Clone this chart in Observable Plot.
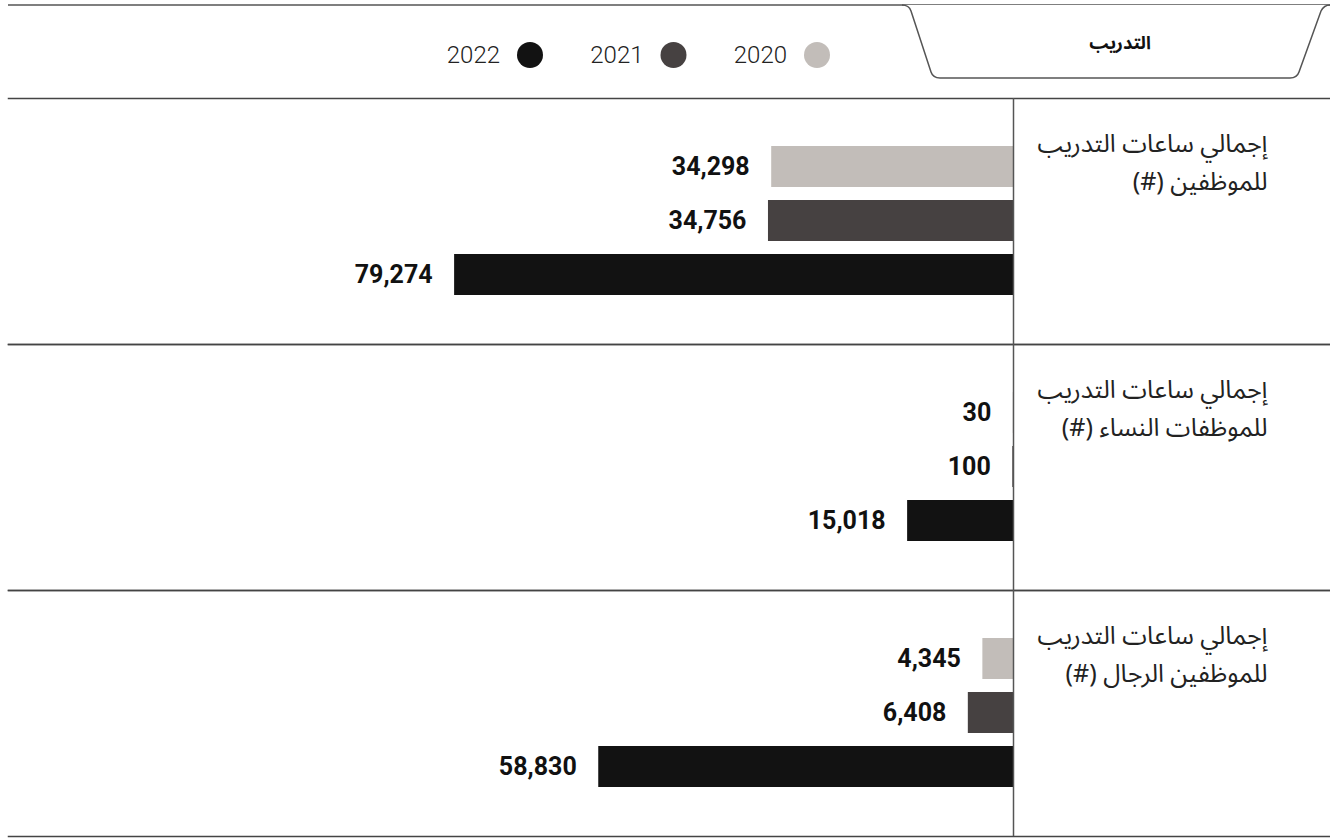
<!DOCTYPE html>
<html>
<head>
<meta charset="utf-8">
<script src="https://cdn.jsdelivr.net/npm/d3@7"></script>
<script src="https://cdn.jsdelivr.net/npm/@observablehq/plot@0.6"></script>
<style>
  html, body { margin: 0; padding: 0; background: #fff; }
  #chart svg { display: block; }
</style>
</head>
<body>
<div id="chart"></div>
<script>
// ---- data ----
const sectionTitle = "التدريب";
const categories = [
  "إجمالي ساعات التدريب\nللموظفين (#)",
  "إجمالي ساعات التدريب\nللموظفات النساء (#)",
  "إجمالي ساعات التدريب\nللموظفين الرجال (#)"
];
const years = ["2020", "2021", "2022"];
const colors = ["#c2bdb9", "#464141", "#121212"];
const values2020 = [34298, 30, 4345];
const values2021 = [34756, 100, 6408];
const values2022 = [79274, 15018, 58830];

const seriesValues = [values2020, values2021, values2022];
const table = [];
categories.forEach((c, i) => {
  years.forEach((y, j) => {
    table.push({category: c, year: y, value: seriesValues[j][i]});
  });
});

const RLM = "\u200F";
const fmt = d3.format(",");

// ---- header (section tab + legend) ----
const W = 1330;
const header = d3.create("svg")
  .attr("width", W).attr("height", 96)
  .style("display", "block");
header.append("line")
  .attr("x1", 8).attr("x2", W).attr("y1", 5).attr("y2", 5)
  .attr("stroke", "#555").attr("stroke-width", 1.5);
header.append("path")
  .attr("d", "M902,5 Q909,5 911,11 L931,72 Q933,78 940,78 H1290 Q1297,78 1299,72 L1321,11 Q1324,5 1330,5")
  .attr("fill", "#fff").attr("stroke", "#555").attr("stroke-width", 1.5);
header.append("text")
  .attr("x", 1120).attr("y", 44)
  .attr("text-anchor", "middle").attr("dominant-baseline", "middle")
  .attr("font-family", "'Noto Sans Arabic', 'DejaVu Sans', sans-serif")
  .attr("font-weight", 700).attr("font-size", 18).attr("fill", "#111")
  .text(sectionTitle);

const legend = header.append("g");
years.forEach((y, j) => {
  const cx = 817 - j * 143.5;
  legend.append("circle").attr("cx", cx).attr("cy", 55).attr("r", 13).attr("fill", colors[j]);
  legend.append("text")
    .attr("x", cx - 30).attr("y", 55)
    .attr("text-anchor", "end").attr("dominant-baseline", "central")
    .attr("font-family", "Roboto, sans-serif").attr("font-weight", 300)
    .attr("font-size", 24).attr("fill", "#222")
    .text(y);
});

document.getElementById("chart").append(header.node());

// ---- chart ----
const plot = Plot.plot({
  width: W,
  height: 743,
  marginTop: 2,
  marginBottom: 3,
  marginLeft: 8,
  marginRight: 0,
  x: {domain: [0, 80000], range: [1013, 449], axis: null},
  y: {domain: years, axis: null, paddingInner: 0.236, paddingOuter: 0.855},
  fy: {domain: categories, axis: null, padding: 0},
  color: {domain: years, range: colors},
  marks: [
    Plot.frame({anchor: "top", stroke: "#444", strokeWidth: 1.5}),
    Plot.frame({anchor: "bottom", stroke: "#444", strokeWidth: 1.5}),
    Plot.barX(table, {fy: "category", y: "year", x: "value", fill: "year"}),
    Plot.ruleX([0], {stroke: "#555", strokeWidth: 1.5}),
    Plot.text(table, {
      fy: "category", y: "year", x: "value",
      text: d => fmt(d.value),
      textAnchor: "end", dx: -22,
      fontSize: 25, fontWeight: 700, fontFamily: "Roboto, sans-serif", fill: "#111"
    }),
    Plot.text(categories, {
      fy: d => d,
      text: d => d.split("\n").map(s => s + RLM).join("\n"),
      frameAnchor: "top-right",
      textAnchor: "end",
      lineAnchor: "top",
      dx: -63, dy: 27,
      lineHeight: 1.5,
      fontSize: 25,
      fontFamily: "'Noto Sans Arabic', 'DejaVu Sans', sans-serif",
      fill: "#222"
    })
  ]
});
document.getElementById("chart").append(plot);
</script>
</body>
</html>
